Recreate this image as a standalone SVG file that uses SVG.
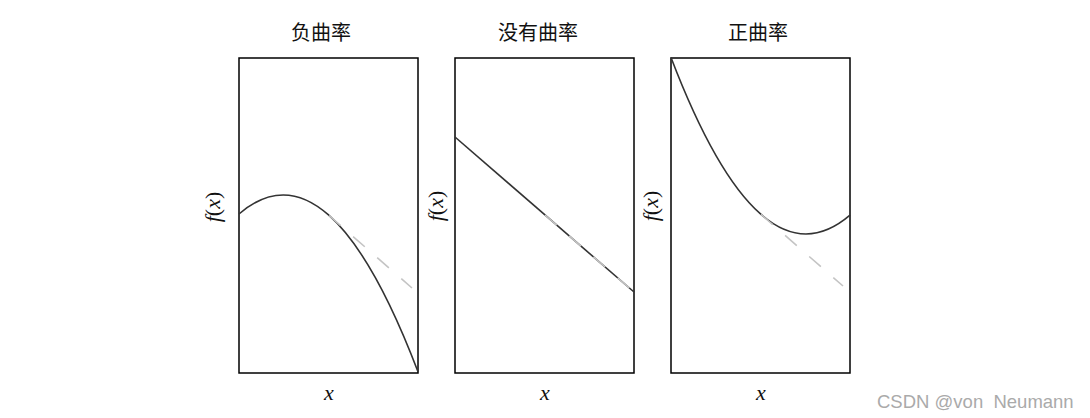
<svg xmlns="http://www.w3.org/2000/svg" width="1090" height="418" viewBox="0 0 1090 418">
<style>
.frame{fill:none;stroke:#000;stroke-width:1.5}
.curve{fill:none;stroke:#333;stroke-width:1.6}
.tan{fill:none;stroke:#c4c4c4;stroke-width:1.6;stroke-dasharray:15.5 16.5}
.title{font-family:"Noto Sans CJK SC",sans-serif;font-size:20px;fill:#111;text-anchor:middle}
.math{font-family:"Liberation Serif",serif;font-size:22px;fill:#111;text-anchor:middle}
.it{font-style:italic}
.wm{font-family:"Liberation Sans",Arial,sans-serif;font-size:18.5px;fill:#aaa;white-space:pre}
</style>
<rect width="1090" height="418" fill="#fff"/>
<g id="panel-negative">
<rect class="frame" x="239" y="58" width="179" height="315"/>
<text class="title" x="321" y="40">负曲率</text>
<text class="math" transform="translate(220,207) rotate(-90)"><tspan class="it">f</tspan>(<tspan class="it">x</tspan>)</text>
<text class="math it" x="329" y="400">x</text>
</g>
<g id="panel-none">
<rect class="frame" x="455" y="58" width="179" height="315"/>
<text class="title" x="538" y="40">没有曲率</text>
<text class="math" transform="translate(443,206) rotate(-90)"><tspan class="it">f</tspan>(<tspan class="it">x</tspan>)</text>
<text class="math it" x="545" y="400">x</text>
</g>
<g id="panel-positive">
<rect class="frame" x="671" y="58" width="179" height="315"/>
<text class="title" x="758" y="40">正曲率</text>
<text class="math" transform="translate(658,206) rotate(-90)"><tspan class="it">f</tspan>(<tspan class="it">x</tspan>)</text>
<text class="math it" x="761" y="400">x</text>
</g>
<g id="connectors">
<path class="curve" d="M239,214 Q328.5,137 418,371.8"/>
<path class="tan" d="M329,215.5 L412,288"/>
<path class="curve" d="M455,137 L634,292"/>
<path class="tan" d="M545,215 L634,292"/>
<path class="curve" d="M671,57.5 Q760.5,291.6 850,215.2"/>
<path class="tan" d="M761,214.4 L843,286"/>
</g>
<text class="wm" x="877" y="408" xml:space="preserve">CSDN @von  Neumann</text>
</svg>
